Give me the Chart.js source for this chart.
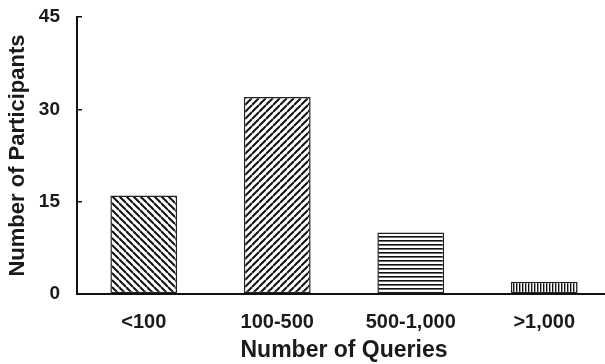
<!DOCTYPE html>
<html>
<head>
<meta charset="utf-8">
<script src="https://cdn.jsdelivr.net/npm/chart.js@4/dist/chart.umd.min.js"></script>
<style>
  html, body { margin: 0; padding: 0; background: #fff; }
  #wrap { width: 605px; height: 364px; overflow: hidden; }
</style>
</head>
<body>
<div id="wrap"><canvas id="queriesChart" width="612" height="364"></canvas></div>
<script>
var categories = ["<100", "100-500", "500-1,000", ">1,000"];
var participants = [16, 32, 10, 2];
var yTicks = [0, 15, 30, 45];
var hatches = ["back", "fwd", "horiz", "vert"];

// small tiles used as bar fills
function makeHatch(kind) {
  var c = document.createElement("canvas");
  var s = 7;
  if (kind == "horiz") s = 4;
  if (kind == "vert") s = 3;
  c.width = s;
  c.height = s;
  var g = c.getContext("2d");
  g.fillStyle = "#fff";
  g.fillRect(0, 0, s, s);
  g.strokeStyle = "#111";
  g.fillStyle = "#111";
  if (kind == "back") {
    g.lineWidth = 2;
    for (var k = -1; k <= 1; k++) {
      g.beginPath();
      g.moveTo(0, k * s);
      g.lineTo(s, s + k * s);
      g.stroke();
    }
  } else if (kind == "fwd") {
    g.lineWidth = 2;
    for (var k = 0; k <= 2; k++) {
      g.beginPath();
      g.moveTo(0, k * s);
      g.lineTo(s, k * s - s);
      g.stroke();
    }
  } else if (kind == "horiz") {
    g.fillRect(0, 0, s, 1.6);
  } else {
    g.fillRect(0, 0, 1.4, s);
  }
  return g.createPattern(c, "repeat");
}

var ctx = document.getElementById("queriesChart").getContext("2d");
var fills = hatches.map(makeHatch);

var myChart = new Chart(ctx, {
  type: "bar",
  data: {
    labels: categories,
    datasets: [
      {
        label: "Participants",
        data: participants,
        backgroundColor: fills,
        borderColor: "#222",
        borderWidth: 1.5,
        borderSkipped: false,
        barPercentage: 0.5,
        categoryPercentage: 1,
      },
    ],
  },
  options: {
    responsive: false,
    animation: false,
    layout: { padding: { top: 17, left: 0, right: 1, bottom: 0 } },
    plugins: {
      legend: { display: false },
      tooltip: { enabled: false },
    },
    scales: {
      x: {
        grid: { display: true, drawOnChartArea: false, drawTicks: false },
        border: { display: true, color: "#111", width: 2 },
        ticks: {
          color: "#1a1a1a",
          padding: 16,
          font: { family: "Liberation Sans, Arial, sans-serif", size: 20, weight: "bold" },
        },
        title: {
          display: true,
          text: "Number of Queries",
          color: "#1a1a1a",
          padding: { top: 0, bottom: 0 },
          font: { family: "Liberation Sans, Arial, sans-serif", size: 23, weight: "bold" },
        },
        afterFit: function (scale) {
          scale.height = 70;
          scale.paddingLeft = 0;
          scale.paddingRight = 0;
        },
      },
      y: {
        min: 0,
        max: 45,
        afterBuildTicks: function (scale) {
          scale.ticks = yTicks.map(function (v) { return { value: v }; });
        },
        grid: { drawOnChartArea: false, drawTicks: true, tickLength: -5, color: "#111", lineWidth: 1.5 },
        border: { display: true, color: "#111", width: 2 },
        ticks: {
          color: "#1a1a1a",
          padding: 22,
          font: { family: "Liberation Sans, Arial, sans-serif", size: 19, weight: "bold" },
        },
        title: {
          display: true,
          text: "Number of Participants",
          color: "#1a1a1a",
          padding: { top: 5, bottom: 0 },
          font: { family: "Liberation Sans, Arial, sans-serif", size: 22, weight: "bold" },
        },
        afterFit: function (scale) {
          scale.width = 77;
          scale.paddingTop = 0;
          scale.paddingBottom = 0;
        },
      },
    },
  },
});
</script>
</body>
</html>
